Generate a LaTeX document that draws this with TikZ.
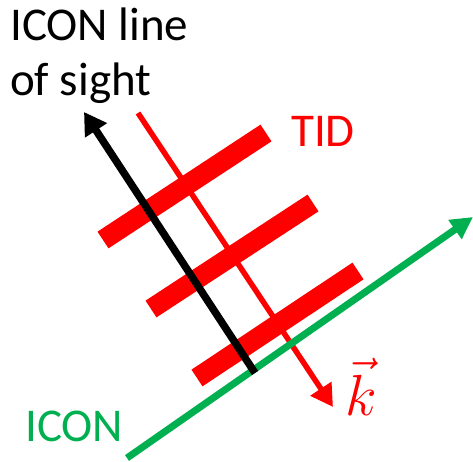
\RequirePackage{fix-cm}
\documentclass[tikz,border=0pt]{standalone}
\usepackage{fontspec}
\setmainfont{Carlito}
\usetikzlibrary{arrows.meta}
\definecolor{tidred}{HTML}{FF0000}
\definecolor{icongreen}{HTML}{00B050}
\tikzset{
  lbl/.style={inner sep=0pt, font=\fontsize{47}{55}\selectfont},
  bar/.style={draw=tidred, line width=20pt, line cap=butt},
  kline/.style={draw=tidred, line width=5.5pt, -{Triangle[length=22pt,width=24pt]}},
  losline/.style={draw=black, line width=7.5pt, -{Triangle[length=22pt,width=25pt]}},
  iconline/.style={draw=icongreen, line width=7pt, -{Triangle[length=22pt,width=22pt]}}
}
\begin{document}
\begin{tikzpicture}[x=1pt,y=1pt]
\path[use as bounding box] (0,0) rectangle (473,-462);
% coordinates
\coordinate (kA) at (138,-113);
\coordinate (kB) at (333,-407);
\coordinate (b1a) at (103,-240);
\coordinate (b1b) at (266,-133);
\coordinate (b2a) at (151,-309);
\coordinate (b2b) at (313,-203);
\coordinate (b3a) at (197,-378);
\coordinate (b3b) at (358,-271);
\coordinate (gA) at (127,-458);
\coordinate (gB) at (473,-217);
\coordinate (lA) at (255,-373);
\coordinate (lB) at (84,-112);
% wave vector line
\draw[kline] (kA) -- (kB);
% TID bars
\draw[bar] (b1a) -- (b1b);
\draw[bar] (b2a) -- (b2b);
\draw[bar] (b3a) -- (b3b);
% ICON track
\draw[iconline] (gA) -- (gB);
% line of sight
\draw[losline] (lA) -- (lB);
% labels
\node[lbl, anchor=base west, align=left] (los) at (10,-96) {ICON line\\of sight};
\node[lbl, anchor=base west, text=tidred] (tid) at (291,-147) {TID};
\node[lbl, anchor=base west, text=icongreen] (icon) at (25,-441) {ICON};
\node[inner sep=0pt, anchor=base west, text=tidred, font=\fontsize{58}{62}\selectfont] (k) at (345,-415) {$\vec{k}$};
\end{tikzpicture}
\end{document}
